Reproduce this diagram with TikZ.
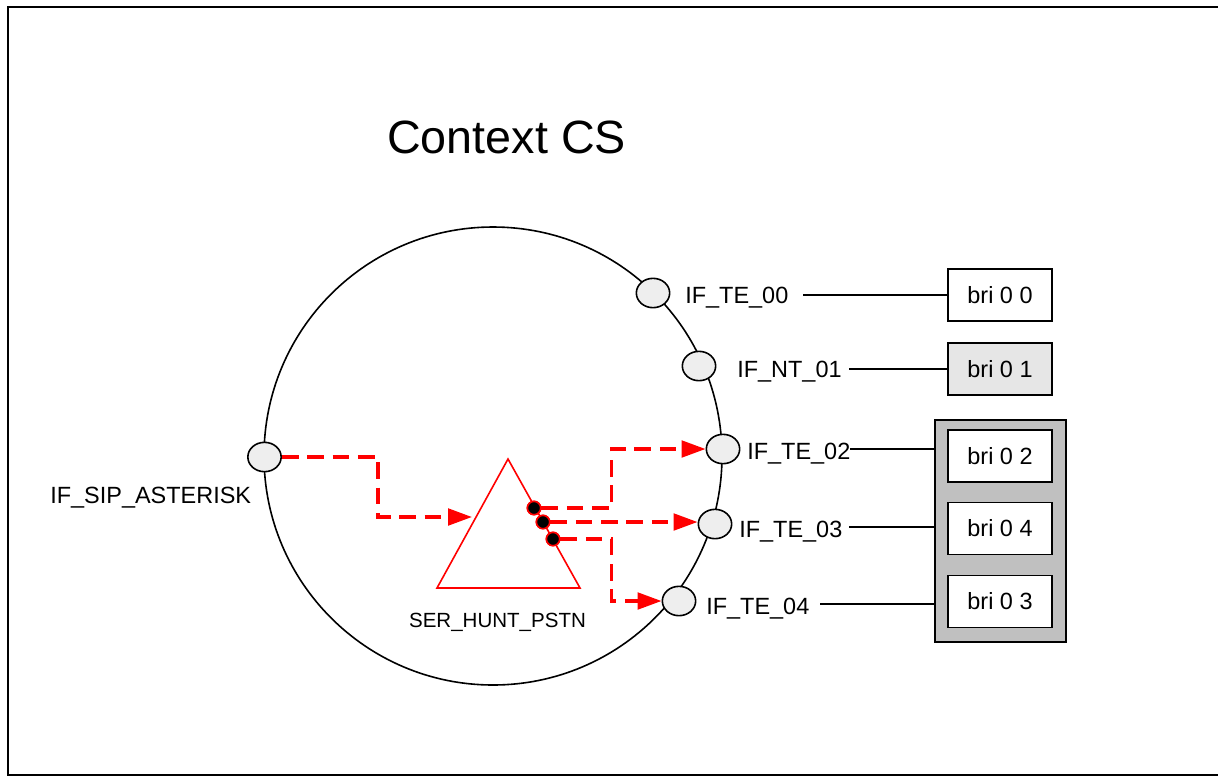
\documentclass[tikz,border=0pt]{standalone}
\usepackage{fontspec}
\setmainfont{Liberation Sans}
\usetikzlibrary{shapes.geometric,arrows.meta}
\definecolor{portgray}{HTML}{EEEEEE}
\definecolor{brigray}{HTML}{E6E6E6}
\definecolor{grpgray}{HTML}{C0C0C0}
\begin{document}
\begin{tikzpicture}[x=0.75pt,y=-0.75pt,
  port/.style={ellipse,draw,line width=1.2pt,fill=portgray,minimum width=25pt,minimum height=22pt,inner sep=0},
  lbl/.style={anchor=base west,inner sep=0,font=\fontsize{17.6}{20}\selectfont},
  bribox/.style={draw,line width=1.2pt,fill=white,minimum width=78pt,minimum height=39pt,inner sep=0,font=\fontsize{17.6}{20}\selectfont},
  redarrow/.style={draw=red,line width=2.4pt,dash pattern=on 12.5pt off 6.5pt,-{Triangle[length=18pt,width=12.5pt]}},
  wire/.style={line width=1.2pt},
  dot/.style={circle,fill=black,draw=red,line width=1.2pt,minimum size=10pt,inner sep=0}]
\useasboundingbox (0,0) rectangle (1218,776);
% frame
\draw[line width=1.6pt] (1218,7) -- (8,7) -- (8,775) -- (1218,775);
% title
\node[anchor=base west,inner sep=0,font=\fontsize{35}{40}\selectfont] (title) at (387,153) {Context CS};
% context circle
\draw[wire] (493,456) circle[radius=229];
% triangle
\draw[red,line width=1.2pt] (508,459) -- (580,588) -- (437,588) -- cycle;
\node[anchor=base,inner sep=0,font=\fontsize{15.4}{18}\selectfont] (ser) at (497.5,627) {SER\_HUNT\_PSTN};
% ports
\node[port] (sip)  at (264.5,457) {};
\node[port] (te00) at (653,293) {};
\node[port] (nt01) at (699,366) {};
\node[port] (te02) at (723,449) {};
\node[port] (te03) at (715,524) {};
\node[port] (te04) at (679,601) {};
% labels
\node[lbl] (lsip)  at (50,503)  {IF\_SIP\_ASTERISK};
\node[lbl] (lte00) at (685,303) {IF\_TE\_00};
\node[lbl] (lnt01) at (737,377) {IF\_NT\_01};
\node[lbl] (lte02) at (747,459) {IF\_TE\_02};
\node[lbl] (lte03) at (739,537) {IF\_TE\_03};
\node[lbl] (lte04) at (706,614) {IF\_TE\_04};
% boxes
\node[draw,line width=1.2pt,fill=grpgray,minimum width=98.25pt,minimum height=166.5pt,inner sep=0] (grp) at (1000.5,531) {};
\node[bribox] (b00) at (1000,295) {bri 0 0};
\node[bribox,fill=brigray] (b01) at (1000,369) {bri 0 1};
\node[bribox] (b02) at (1000,456) {bri 0 2};
\node[bribox] (b04) at (1000,528.5) {bri 0 4};
\node[bribox] (b03) at (1000,601.5) {bri 0 3};
% black wires
\coordinate (s0) at (803,295);
\coordinate (s1) at (849,369);
\coordinate (s2) at (850,449);
\coordinate (s3) at (849,527);
\coordinate (s4) at (820,604);
\draw[wire] (s0) -- (s0 -| b00.west);
\draw[wire] (s1) -- (s1 -| b01.west);
\draw[wire] (s2) -- (s2 -| grp.west);
\draw[wire] (s3) -- (s3 -| grp.west);
\draw[wire] (s4) -- (s4 -| grp.west);
% hunt group outputs
\node[dot] (d1) at (534,508) {};
\node[dot] (d2) at (543,522) {};
\node[dot] (d3) at (553,539) {};
\coordinate (tin) at (472,517);
\draw[redarrow] (sip.east) -- ++(96,0) |- (tin);
\draw[redarrow] (d1.east) -- ++(70,0) |- (te02.west);
\draw[redarrow] (d2.east) -- (d2.east -| te03.west);
\draw[redarrow] (d3.east) -- ++(51,0) |- (te04.west);
\node[dot] at (d1) {};
\node[dot] at (d2) {};
\node[dot] at (d3) {};
\end{tikzpicture}
\end{document}
